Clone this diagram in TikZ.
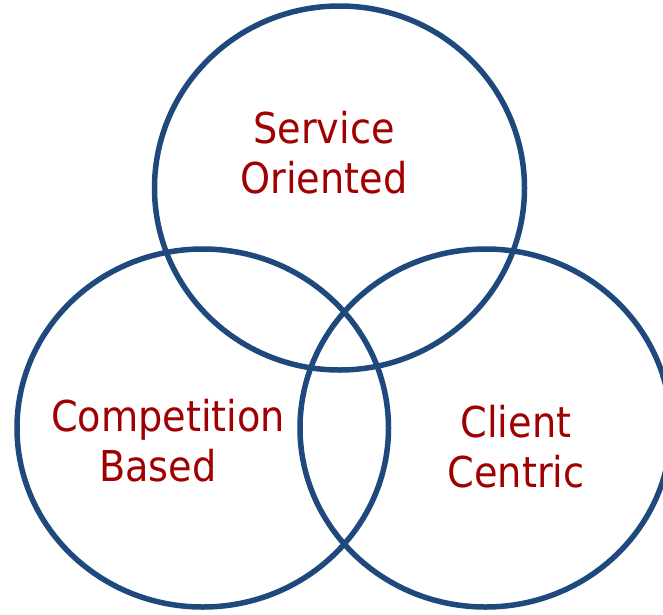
\documentclass[tikz,border=0pt]{standalone}
\usepackage{fontspec}
\setmainfont{DejaVu Sans Condensed}
\definecolor{ringblue}{RGB}{31,73,125}
\definecolor{labelred}{RGB}{160,0,0}
\tikzset{
  ring/.style={draw=ringblue, line width=5.5pt},
  lbl/.style={text=labelred, align=center, font=\fontsize{42.5}{50}\selectfont, inner sep=0pt}
}
\begin{document}
\begin{tikzpicture}[x=1pt,y=-1pt]
\useasboundingbox (0,0) rectangle (663,614);
\draw[ring] (339.5,188) ellipse [x radius=185pt, y radius=182pt];
\draw[ring] (202.75,428) ellipse [x radius=185.75pt, y radius=179pt];
\draw[ring] (485.5,428) ellipse [x radius=185.5pt, y radius=179pt];
\node[lbl] (service) at (324,153) {Service\\Oriented};
\node[lbl] (competition) at (168,441) {Competition\\Based\hspace*{20pt}};
\node[lbl] (client) at (516,447) {Client\\Centric};
\end{tikzpicture}
\end{document}
